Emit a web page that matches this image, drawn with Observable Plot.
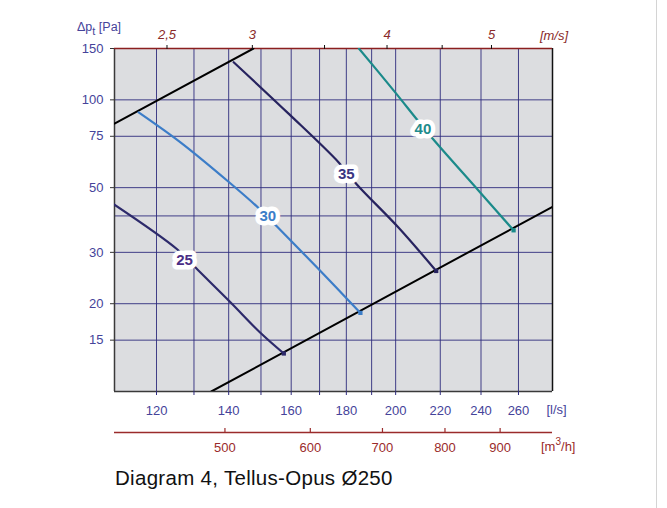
<!DOCTYPE html>
<html><head><meta charset="utf-8">
<script src="https://cdn.jsdelivr.net/npm/d3@7"></script>
<script src="https://cdn.jsdelivr.net/npm/@observablehq/plot@0.6"></script>
<style>
html,body{margin:0;padding:0;background:#fff;}
#page{position:relative;width:667px;height:508px;font-family:"Liberation Sans",Arial,sans-serif;overflow:hidden;}
#edge{position:absolute;left:656px;top:0;width:1px;height:508px;background:#d4d4d4;}
#chart svg{display:block;max-width:none;}
#caption{position:absolute;left:115px;top:466px;font-size:20.5px;letter-spacing:0.3px;line-height:24px;color:#111;white-space:nowrap;}
</style></head><body>
<div id="page"><div id="chart"></div><div id="edge"></div><div id="caption">Diagram 4, Tellus-Opus Ø250</div></div>
<script>
// ---- axes / ticks ----
const xDomain = [109.7, 279.6];          // air flow [l/s]
const yDomain = [10, 150];               // pressure [Pa]
const lsTicks = [120,130,140,150,160,170,180,190,200,220,240,260];
const lsLabels = [120,140,160,180,200,220,240,260];
const paTicks = [15,20,30,50,75,100,150];
const paGrid = [15,20,30,40,50,75,100];
const msTicks = [2.5,3,3.5,4,4.5,5];
const msLabels = ["2,5","3","","4","","5"];
const m3hTicks = [500,600,700,800,900];
const ductDiameter = 0.25;               // m (Ø250)

// ---- system curves (black) ----
const sysNames = ["upper","lower"];
const sys1Q = [109.7, 147.6]; const sys1P = [82.9, 150];
const sys2Q = [134.9, 279.6]; const sys2P = [10, 43.0];

// ---- sound level curves dB(A) ----
const levelNames = ["25","30","35","40"];
const db25Q = [109.5,125.4,131.1,140.6,149.8,157.5];
const db25P = [43.9,30.75,26.1,20.2,15.9,13.5];
const db30Q = [115.5,126.3,139.6,149.3,155.3,169.1,185.5];
const db30P = [90.6,71.5,52.8,42.5,36.7,26.6,18.6];
const db35Q = [141.5,159.2,177.1,184.0,201.2,218.1];
const db35P = [134.6,89.5,61.0,51.4,36.5,25.9];
const db40Q = [184.9,199.2,209.5,216.6,238.8,257.3];
const db40P = [150,107.6,85.3,73.4,48.8,35.7];
const labelQ = [127.4,152.2,180.0,212.0];
const labelP = [28.2,40.0,55.7,79.5];
const lineColors = ["#2d2a6b","#3c7dc8","#27235f","#1b8a8a"];
const labelColors = ["#4a2d85","#3c7dc8","#3a3682","#1f8c8c"];

// ---- build tables ----
const levels = [[db25Q,db25P],[db30Q,db30P],[db35Q,db35P],[db40Q,db40P]].map(([q,p],k)=>({
  name: levelNames[k], pts: q.map((v,i)=>({q:v,p:p[i]})), color: lineColors[k],
  labelColor: labelColors[k], label: {q: labelQ[k], p: labelP[k], t: levelNames[k]}
}));
const sysPts = [[sys1Q,sys1P],[sys2Q,sys2P]].flatMap(([q,p],k)=>q.map((v,i)=>({name:sysNames[k],q:v,p:p[i]})));

const area = Math.PI*(ductDiameter/2)**2;
const msToLs = v => v*area*1000;
const m3hToLs = v => v/3.6;
const msMap = new Map(msTicks.map((v,i)=>[msToLs(v), msLabels[i]]));

const navy = "#45439a", grid = "#2f2c7d", red = "#9a2b2b", dred = "#8a2a2a";

const chart = Plot.plot({
  width: 667, height: 460,
  marginLeft: 114, marginRight: 115, marginTop: 48, marginBottom: 69,
  style: {fontFamily: "'Liberation Sans', Arial, sans-serif", background: "transparent", overflow: "visible"},
  x: {type: "log", domain: xDomain},
  y: {type: "log", domain: yDomain},
  marks: [
    Plot.frame({fill: "#dcdde0", stroke: null}),
    Plot.ruleX(lsTicks, {stroke: grid, strokeWidth: 1, strokeOpacity: 0.9}),
    Plot.ruleY(paGrid, {stroke: grid, strokeWidth: 1, strokeOpacity: 0.9}),
    Plot.ruleX([xDomain[0]], {stroke: "#3a3a3a", strokeWidth: 1.5}),
    Plot.ruleX([xDomain[1]], {stroke: "#111", strokeWidth: 1.5}),
    Plot.ruleY([yDomain[0]], {stroke: "#3a3a3a", strokeWidth: 1.5}),
    Plot.ruleY([yDomain[1]], {stroke: "#8b1f1f", strokeWidth: 1.5}),
    Plot.line(sysPts, {x: "q", y: "p", z: "name", stroke: "#000", strokeWidth: 2, clip: true}),
    ...levels.map(s => Plot.line(s.pts, {x: "q", y: "p", stroke: s.color, strokeWidth: 2.2, curve: "catmull-rom", clip: true})),
    ...levels.map(s => Plot.dot([s.pts[s.pts.length-1]], {x: "q", y: "p", fill: s.color, r: 2.4, symbol: "square"})),
    ...levels.map(s => Plot.text([s.label], {x: "q", y: "p", text: "t", fill: s.labelColor, stroke: "white", strokeWidth: 9, strokeLinejoin: "round", paintOrder: "stroke", fontSize: 15, fontWeight: "bold"})),
    Plot.axisY(paTicks, {anchor: "left", tickSize: 4, tickPadding: 7, fontSize: 13, fill: navy, stroke: "#333", label: null}),
    Plot.axisX(lsTicks, {anchor: "bottom", tickSize: 4, tickPadding: 10, fontSize: 13, fill: navy, stroke: grid, tickFormat: d => lsLabels.includes(d) ? String(d) : "", label: null}),
    Plot.axisX(msTicks.map(msToLs), {anchor: "top", tickSize: 4, tickPadding: 6, fontSize: 13, fontStyle: "italic", fill: dred, stroke: "#111", tickFormat: d => msMap.get(d) ?? "", label: null}),
    Plot.text(["[l/s]"], {frameAnchor: "bottom-right", dx: 4, dy: 18, textAnchor: "middle", lineAnchor: "middle", fontSize: 13, fill: navy}),
    Plot.text(["[m/s]"], {frameAnchor: "top-right", dx: 1.5, dy: -13, textAnchor: "middle", lineAnchor: "middle", fontSize: 13, fontStyle: "italic", fill: dred}),
    Plot.ruleY([yDomain[0]], {dy: 41, stroke: red, strokeWidth: 1.3}),
    Plot.tickX(m3hTicks, {x: m3hToLs, insetTop: 339, dy: 41, stroke: red, strokeWidth: 1.2}),
    Plot.text(m3hTicks, {x: m3hToLs, frameAnchor: "bottom", dy: 56, lineAnchor: "middle", text: d => String(d), fontSize: 13, fill: red})
  ]
});
chart.style.maxWidth = "none";
document.getElementById("chart").appendChild(chart);

const svg = d3.select(chart);
const yt = svg.append("text").attr("x", 77).attr("y", 30.5).attr("font-size", 12.5).attr("fill", navy)
  .attr("text-anchor", "start").attr("font-family", "'Liberation Sans', Arial, sans-serif");
yt.append("tspan").text("Δp");
yt.append("tspan").attr("dy", 4).attr("font-size", 11).text("t");
yt.append("tspan").attr("dy", -4).text(" [Pa]");
const mt = svg.append("text").attr("x", 541).attr("y", 451).attr("font-size", 13).attr("fill", red)
  .attr("text-anchor", "start").attr("font-family", "'Liberation Sans', Arial, sans-serif");
mt.append("tspan").text("[m");
mt.append("tspan").attr("dy", -6).attr("font-size", 10).text("3");
mt.append("tspan").attr("dy", 6).text("/h]");
</script>
</body></html>
